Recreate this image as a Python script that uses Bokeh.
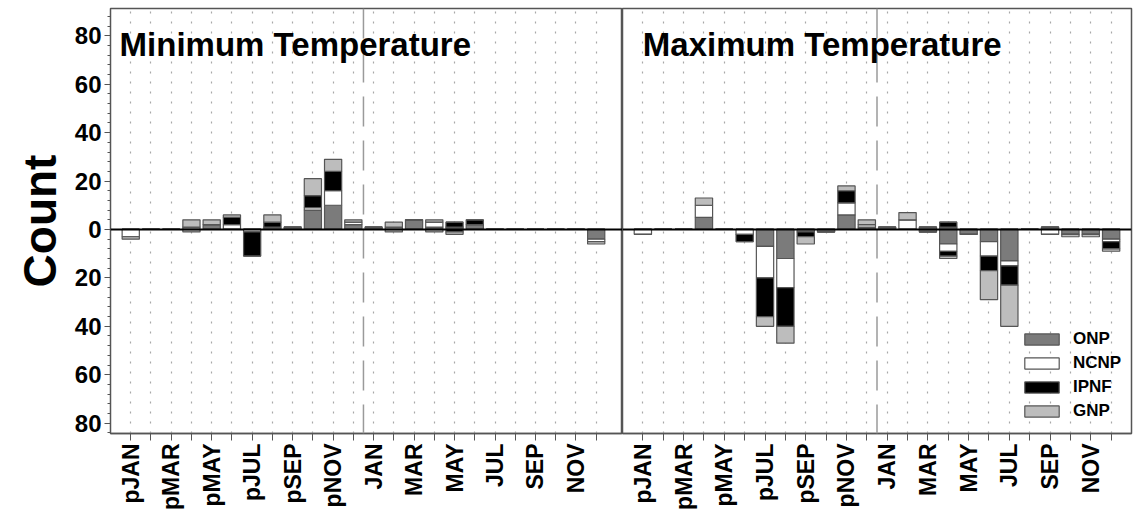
import numpy as np
from bokeh.plotting import figure
from bokeh.layouts import row
from bokeh.models import FixedTicker, Span, Label, Legend, LegendItem, Range1d
from bokeh.embed import file_html
from bokeh.resources import INLINE

# Months of the prior year (p-prefixed) followed by the current year
months = ["pJAN", "pFEB", "pMAR", "pAPR", "pMAY", "pJUN", "pJUL", "pAUG", "pSEP", "pOCT", "pNOV", "pDEC",
          "JAN", "FEB", "MAR", "APR", "MAY", "JUN", "JUL", "AUG", "SEP", "OCT", "NOV", "DEC"]
series = ["ONP", "NCNP", "IPNF", "GNP"]
colors = ["#7b7b7b", "#ffffff", "#000000", "#bdbdbd"]

# Minimum temperature: positive and negative counts per park
tmin_onp_pos  = [0, 0, 0, 0, 2, 0, 0, 1, 1, 8, 10, 2,  1, 0, 4, 1, 1, 2, 0, 0, 0, 0, 0, 0]
tmin_ncnp_pos = [0, 0, 0, 1, 0, 2, 0, 0, 0, 1, 6, 1,   0, 1, 0, 2, 0, 0, 0, 0, 0, 0, 0, 0]
tmin_ipnf_pos = [0, 0, 0, 0, 0, 3, 0, 2, 0, 5, 8, 0,   0, 0, 0, 0, 2, 2, 0, 0, 0, 0, 0, 0]
tmin_gnp_pos  = [0, 0, 0, 3, 2, 1, 0, 3, 0, 7, 5, 1,   0, 2, 0, 1, 0, 0, 0, 0, 0, 0, 0, 0]
tmin_onp_neg  = [0, 0, 0, 0, 0, 0, 0, 0, 0, 0, 0, 0,   0, 0, 0, 0, 0, 0, 0, 0, 0, 0, 0, -4]
tmin_ncnp_neg = [-3, 0, 0, 0, 0, 0, -1, 0, 0, 0, 0, 0, 0, 0, 0, 0, 0, 0, 0, 0, 0, 0, 0, -1]
tmin_ipnf_neg = [0, 0, 0, 0, 0, 0, -10, 0, 0, 0, 0, 0, 0, 0, 0, 0, -1, 0, 0, 0, 0, 0, 0, 0]
tmin_gnp_neg  = [-1, 0, 0, -1, 0, 0, 0, 0, 0, 0, 0, 0, 0, -1, 0, -1, -1, 0, 0, 0, 0, 0, 0, -1]

# Maximum temperature: positive and negative counts per park
tmax_onp_pos  = [0, 0, 0, 5, 0, 0, 0, 0, 0, 0, 6, 1,   1, 0, 1, 1, 0, 0, 0, 0, 1, 0, 0, 0]
tmax_ncnp_pos = [0, 0, 0, 5, 0, 0, 0, 0, 0, 0, 5, 1,   0, 4, 0, 0, 0, 0, 0, 0, 0, 0, 0, 0]
tmax_ipnf_pos = [0, 0, 0, 0, 0, 0, 0, 0, 0, 0, 5, 0,   0, 0, 0, 2, 0, 0, 0, 0, 0, 0, 0, 0]
tmax_gnp_pos  = [0, 0, 0, 3, 0, 0, 0, 0, 0, 0, 2, 2,   0, 3, 0, 0, 0, 0, 0, 0, 0, 0, 0, 0]
tmax_onp_neg  = [0, 0, 0, 0, 0, 0, -7, -12, -1, -1, 0, 0, 0, 0, -1, -6, -2, -5, -13, 0, 0, -2, -2, -4]
tmax_ncnp_neg = [-2, 0, 0, 0, 0, -2, -13, -12, 0, 0, 0, 0, 0, 0, 0, -3, 0, -6, -2, 0, -2, 0, 0, -1]
tmax_ipnf_neg = [0, 0, 0, 0, 0, -3, -16, -16, -2, 0, 0, 0, 0, 0, 0, -2, 0, -6, -8, 0, 0, 0, 0, -3]
tmax_gnp_neg  = [0, 0, 0, 0, 0, 0, -4, -7, -3, 0, 0, 0, 0, 0, 0, -1, 0, -12, -17, 0, 0, -1, -1, -1]

y_ticks = [-80, -60, -40, -20, 0, 20, 40, 60, 80]
FONT = "Liberation Sans"
X = np.arange(1, len(months) + 1)
Y_RANGE = (-84.3, 91.3)


def make_panel(width, x_end, left_border, show_y):
    p = figure(width=width, height=527, x_range=Range1d(0, x_end), y_range=Range1d(*Y_RANGE),
               output_backend="svg", toolbar_location=None,
               y_axis_location="left" if show_y else None,
               min_border_left=left_border, min_border_right=0 if show_y else 2,
               min_border_top=8, min_border_bottom=94)
    p.outline_line_color = "#555555"
    p.outline_line_width = 1.5
    p.background_fill_color = "white"
    p.border_fill_color = "white"

    # dotted vertical grid at every month
    p.xgrid.ticker = FixedTicker(ticks=list(X))
    p.xgrid.grid_line_color = "#a8a8a8"
    p.xgrid.grid_line_dash = "2 8"
    p.xgrid.grid_line_width = 1.2
    p.ygrid.grid_line_color = None

    xa = p.xaxis[0]
    xa.ticker = FixedTicker(ticks=list(X))
    xa.major_label_overrides = {int(i + 1): (m if i % 2 == 0 else "") for i, m in enumerate(months)}
    xa.major_label_orientation = np.pi / 2
    xa.major_label_text_font = FONT
    xa.major_label_text_font_style = "bold"
    xa.major_label_text_font_size = "23px"
    xa.major_label_text_color = "black"
    xa.major_label_standoff = 3
    xa.major_tick_out = 7
    xa.major_tick_in = 0
    xa.minor_tick_line_color = None
    xa.axis_line_color = "#555555"
    xa.major_tick_line_color = "#555555"
    xa.axis_line_width = 1.5

    if show_y:
        ya = p.yaxis[0]
        ya.ticker = FixedTicker(ticks=y_ticks, minor_ticks=list(range(-84, 92, 4)))
        ya.major_label_overrides = {v: str(abs(v)) for v in y_ticks}
        ya.major_label_text_font = FONT
        ya.major_label_text_font_style = "bold"
        ya.major_label_text_font_size = "24px"
        ya.major_label_text_color = "black"
        ya.major_label_standoff = 3
        ya.major_tick_out = 6
        ya.major_tick_in = 0
        ya.minor_tick_out = 3
        ya.minor_tick_in = 0
        ya.axis_line_color = "#555555"
        ya.major_tick_line_color = "#555555"
        ya.minor_tick_line_color = "#555555"
        ya.axis_label = "Count"
        ya.axis_label_text_font = FONT
        ya.axis_label_text_font_style = "bold"
        ya.axis_label_text_font_size = "46px"
        ya.axis_label_text_color = "black"
        ya.axis_label_standoff = 6
    return p


def draw_stacks(p, pos_lists, neg_lists):
    renderers = []
    base_p = np.zeros(len(X))
    base_n = np.zeros(len(X))
    for vals_p, vals_n, color in zip(pos_lists, neg_lists, colors):
        vp = np.array(vals_p, dtype=float)
        vn = np.array(vals_n, dtype=float)
        r = p.vbar(x=X, bottom=base_p, top=base_p + vp, width=0.85,
                   fill_color=color, line_color="#555555", line_width=1.2)
        p.vbar(x=X, bottom=base_n + vn, top=base_n, width=0.85,
               fill_color=color, line_color="#555555", line_width=1.2)
        base_p = base_p + vp
        base_n = base_n + vn
        renderers.append(r)
    return renderers


def decorate(p, title, title_x):
    p.add_layout(Span(location=12.5, dimension="height", line_color="#9a9a9a",
                      line_dash="30 14", line_width=1.5))
    p.add_layout(Span(location=0, dimension="width", line_color="black", line_width=2))
    p.add_layout(Label(x=title_x, y=76.5, text=title, text_font=FONT, text_font_style="bold",
                       text_font_size="33px", text_color="black", text_baseline="alphabetic"))


p1 = make_panel(622, 25.3, 110, True)
draw_stacks(p1, [tmin_onp_pos, tmin_ncnp_pos, tmin_ipnf_pos, tmin_gnp_pos],
            [tmin_onp_neg, tmin_ncnp_neg, tmin_ipnf_neg, tmin_gnp_neg])
decorate(p1, "Minimum Temperature", 0.45)

p2 = make_panel(511, 25.0, 0, False)
rs = draw_stacks(p2, [tmax_onp_pos, tmax_ncnp_pos, tmax_ipnf_pos, tmax_gnp_pos],
                 [tmax_onp_neg, tmax_ncnp_neg, tmax_ipnf_neg, tmax_gnp_neg])
decorate(p2, "Maximum Temperature", 1.0)

legend = Legend(items=[LegendItem(label=s, renderers=[r]) for s, r in zip(series, rs)],
                location=(398, 12), orientation="vertical",
                glyph_width=43, glyph_height=14, label_standoff=10, spacing=4,
                padding=0, margin=0, border_line_color=None, background_fill_alpha=0,
                label_text_font=FONT, label_text_font_style="bold", label_text_color="black",
                label_text_font_size="17px", label_height=17)
p2.add_layout(legend)

layout = row(p1, p2)
open("out.html", "w").write(file_html(layout, INLINE))
